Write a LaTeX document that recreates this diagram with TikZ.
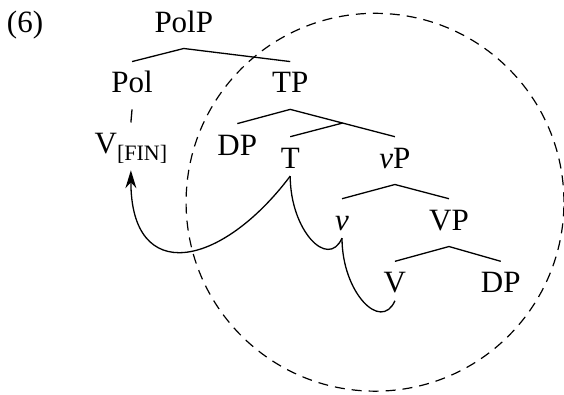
\documentclass[tikz,border=0pt]{standalone}
\usepackage{fontspec}
\setmainfont{Liberation Serif}
\usetikzlibrary{calc, arrows.meta}

\begin{document}
\begin{tikzpicture}[
  cat/.style={anchor=base, font=\fontsize{15.5}{18}\selectfont, text height=10.5pt, text depth=3pt, inner xsep=1pt, inner ysep=5pt},
  branch/.style={line width=0.65pt},
  move/.style={line width=0.65pt},
  hop/.style={out=-90, in=-114, out distance=0.95cm, in distance=0.61cm},
  ring/.style={line width=0.6pt, dash pattern=on 5pt off 3.5pt},
  >={Stealth[length=9pt, width=5.5pt, inset=3pt]}]
  \useasboundingbox (0,0) rectangle (9.911,6.924);
  \node[cat] (ex) at (0.44,6.36) {(6)};
  \node[cat] (polp) at (3.23,6.36) {PolP};
  \node[cat] (pol) at (2.32,5.29) {Pol};
  \node[cat] (tp) at (5.10,5.29) {TP};
  \node[cat] (vfin) at (2.30,4.22) {V\raisebox{-3.5pt}{\fontsize{11}{11}\selectfont[FIN]}};
  \node[cat] (dpa) at (4.17,4.20) {DP};
  \node[cat] (t) at (5.10,3.97) {T};
  \node[cat] (vp) at (6.94,3.97) {\textit{v}P};
  \node[cat] (v) at (6.01,2.88) {\textit{v}};
  \node[cat] (vpb) at (7.89,2.88) {VP};
  \node[cat] (vb) at (6.94,1.78) {V};
  \node[cat] (dpb) at (8.80,1.78) {DP};
  % phase boundary
  \draw[ring] (6.59,3.37) circle (3.32);
  % tree
  \draw[branch] (pol.north) -- (polp.south) -- (tp.north);
  \draw[branch] (pol.south) -- (vfin.north);
  \draw[branch] (dpa.north) -- (tp.south) -- (vp.north);
  \coordinate (tbar) at ($(tp.south)!0.5!(vp.north)$);
  \draw[branch] (tbar) -- (t.north);
  \draw[branch] (v.north) -- (vp.south) -- (vpb.north);
  \draw[branch] (vb.north) -- (vpb.south) -- (dpb.north);
  % head movement
  \draw[move, ->] ([yshift=-4pt]t.base) to[out=-127, in=-90, looseness=1.85] (vfin.south);
  \draw[move] ([yshift=-4pt]t.base) to[hop] ([yshift=-4pt]v.base);
  \draw[move] ([yshift=-4pt]v.base) to[hop] ([yshift=-4pt]vb.base);
\end{tikzpicture}
\end{document}
